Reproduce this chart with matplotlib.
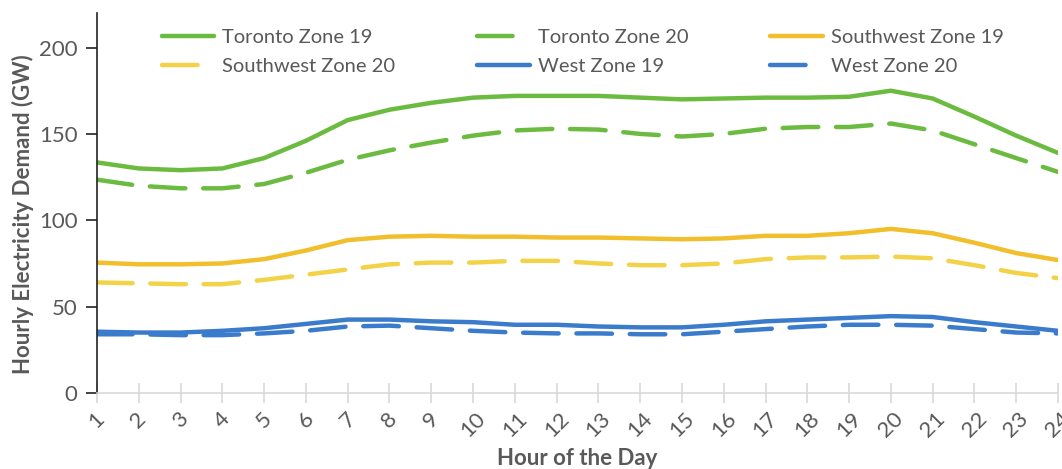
import matplotlib.pyplot as plt

plt.rcParams['font.family'] = ['Lato', 'DejaVu Sans']

hours = list(range(1, 25))

toronto_19 = [133.5, 130, 129, 130, 136, 146, 158, 164, 168, 171, 172, 172,
              172, 171, 170, 170.5, 171, 171, 171.5, 175, 170.5, 160, 149, 139]
toronto_20 = [123.5, 120, 118.5, 118.5, 121, 127.5, 135, 140.5, 145, 149, 152, 153,
              152.5, 150, 148.5, 150, 153, 154, 154, 156, 152, 144, 136, 128]
southwest_19 = [75.5, 74.5, 74.5, 75, 77.5, 82.5, 88.5, 90.5, 91, 90.5, 90.5, 90,
                90, 89.5, 89, 89.5, 91, 91, 92.5, 95, 92.5, 87, 81, 77]
southwest_20 = [64, 63.5, 63, 63, 65.5, 68.5, 71.5, 74.5, 75.5, 75.5, 76.5, 76.5,
                75, 74, 74, 75, 77.5, 78.5, 78.5, 79, 78, 74, 69.5, 66.5]
west_19 = [35.5, 35, 35, 36, 37.5, 40, 42.5, 42.5, 41.5, 41, 39.5, 39.5,
           38.5, 38, 38, 39.5, 41.5, 42.5, 43.5, 44.5, 44, 41, 38.5, 36]
west_20 = [34, 34, 33.5, 33.5, 34.5, 36, 38.5, 39, 37.5, 36, 35, 34.5,
           34.5, 34, 34, 35.5, 37, 38.5, 39.5, 39.5, 39, 37, 35, 34.5]

green = '#6cbb41'
yellow = '#f1bf2b'
yellow_light = '#f3d248'
blue = '#3a7ccb'
gray = '#595959'

fig = plt.figure(figsize=(10.62, 4.69), dpi=100)
ax = fig.add_axes([97 / 1062, 1 - 393 / 469, 961 / 1062, 380 / 469])

lw = 3.2
dash = (8, 4)
style = dict(lw=lw, solid_capstyle='round', dash_capstyle='round')
l1, = ax.plot(hours, toronto_19, color=green, label='Toronto Zone 19', **style)
l2, = ax.plot(hours, toronto_20, color=green, dashes=dash, label='Toronto Zone 20', **style)
l3, = ax.plot(hours, southwest_19, color=yellow, label='Southwest Zone 19', **style)
l4, = ax.plot(hours, southwest_20, color=yellow_light, dashes=dash, label='Southwest Zone 20', **style)
l5, = ax.plot(hours, west_19, color=blue, label='West Zone 19', **style)
l6, = ax.plot(hours, west_20, color=blue, dashes=dash, label='West Zone 20', **style)

ax.set_xlim(1, 24)
ax.set_ylim(0, 220)
ax.set_xticks(hours)
ax.set_xticklabels([str(h) for h in hours], rotation=45, ha='center', va='top')
ax.set_yticks([0, 50, 100, 150, 200])

for s in ['top', 'right']:
    ax.spines[s].set_visible(False)
ax.spines['left'].set_color('#222222')
ax.spines['left'].set_linewidth(1.2)
ax.spines['bottom'].set_color('#d9d9d9')
ax.spines['bottom'].set_linewidth(1.2)

ax.tick_params(axis='x', direction='inout', length=14, width=1.2, color='#d9d9d9',
               labelcolor=gray, labelsize=16, pad=4)
ax.tick_params(axis='y', direction='out', length=8, width=1.2, color='#222222',
               labelcolor=gray, labelsize=16, pad=6)

ax.set_xlabel('Hour of the Day', fontsize=16, fontweight='bold', color=gray, labelpad=5)
ax.set_ylabel('Hourly Electricity Demand (GW)', fontsize=16, fontweight='bold',
              color=gray)
ax.yaxis.set_label_coords(-0.066, 0.47)

# legend fills column by column, so order handles to get the row layout
handles = [l1, l4, l2, l5, l3, l6]
leg = ax.legend(handles=handles, labels=[h.get_label() for h in handles],
                ncol=3, frameon=False, loc='upper left', mode='expand',
                bbox_to_anchor=(0.053, 0.995, 0.905, 0), borderaxespad=0.3,
                fontsize=14.5, handlelength=2.6, handletextpad=0.4,
                labelspacing=0.58)
for t in leg.get_texts():
    t.set_color(gray)

fig.savefig('out.png', dpi=100)
